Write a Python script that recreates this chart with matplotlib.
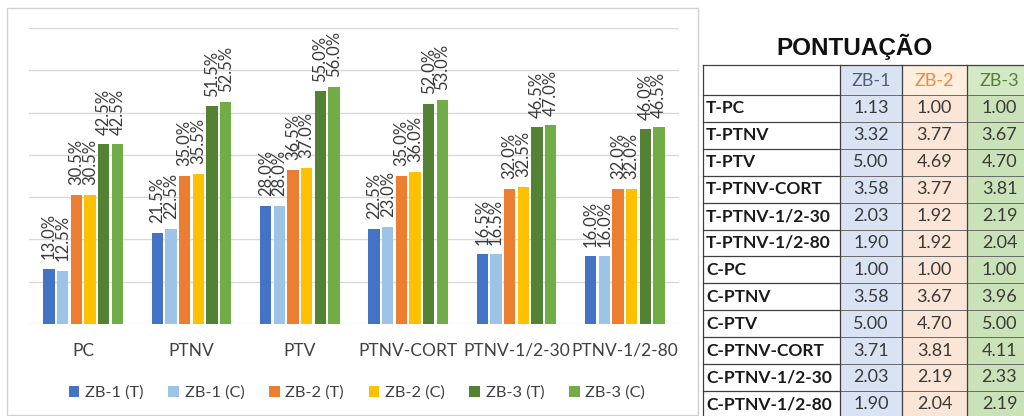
import matplotlib

matplotlib.use("Agg")
import matplotlib.pyplot as plt  # noqa: E402
import numpy as np  # noqa: E402
from matplotlib.patches import Rectangle  # noqa: E402

# --- bar chart data (% per method and bioclimatic zone) ---
categories = ["PC", "PTNV", "PTV", "PTNV-CORT", "PTNV-1/2-30", "PTNV-1/2-80"]
series_names = ["ZB-1 (T)", "ZB-1 (C)", "ZB-2 (T)", "ZB-2 (C)", "ZB-3 (T)", "ZB-3 (C)"]
zb1_t = [13.0, 21.5, 28.0, 22.5, 16.5, 16.0]
zb1_c = [12.5, 22.5, 28.0, 23.0, 16.5, 16.0]
zb2_t = [30.5, 35.0, 36.5, 35.0, 32.0, 32.0]
zb2_c = [30.5, 35.5, 37.0, 36.0, 32.5, 32.0]
zb3_t = [42.5, 51.5, 55.0, 52.0, 46.5, 46.0]
zb3_c = [42.5, 52.5, 56.0, 53.0, 47.0, 46.5]
series_colors = ["#4472C4", "#9DC3E6", "#ED7D31", "#FFC000", "#548235", "#70AD47"]

# --- score table ---
table_title = "PONTUAÇÃO"
table_cols = ["ZB-1", "ZB-2", "ZB-3"]
table_rows = ["T-PC", "T-PTNV", "T-PTV", "T-PTNV-CORT", "T-PTNV-1/2-30", "T-PTNV-1/2-80",
              "C-PC", "C-PTNV", "C-PTV", "C-PTNV-CORT", "C-PTNV-1/2-30", "C-PTNV-1/2-80"]
score_zb1 = [1.13, 3.32, 5.00, 3.58, 2.03, 1.90, 1.00, 3.58, 5.00, 3.71, 2.03, 1.90]
score_zb2 = [1.00, 3.77, 4.69, 3.77, 1.92, 1.92, 1.00, 3.67, 4.70, 3.81, 2.19, 2.04]
score_zb3 = [1.00, 3.67, 4.70, 3.81, 2.19, 2.04, 1.00, 3.96, 5.00, 4.11, 2.33, 2.19]
col_fills = ["#DAE3F3", "#FBE5D6", "#C9E2B8"]
head_fills = ["#DAE3F3", "#FDEEDD", "#D3E8C4"]
head_colors = ["#50607E", "#F0893F", "#548235"]

plt.rcParams["font.family"] = ["Lato", "DejaVu Sans"]

W, H = 1024, 416
fig = plt.figure(figsize=(W / 100, H / 100), dpi=100)
fig.patch.set_facecolor("white")

# chart area, placed in pixel terms
px0, px1, py_top, py_base = 29, 679, 28, 324
ax = fig.add_axes([px0 / W, 1 - py_base / H, (px1 - px0) / W, (py_base - py_top) / H])

series = [zb1_t, zb1_c, zb2_t, zb2_c, zb3_t, zb3_c]
x = np.arange(len(categories))
slot = 0.126
bar_w = 0.104
bars = []
for k, (vals, name, col) in enumerate(zip(series, series_names, series_colors)):
    offs = (k - (len(series) - 1) / 2) * slot
    b = ax.bar(x + offs, vals, bar_w, color=col, label=name, zorder=3)
    ax.bar_label(b, labels=[f"{v:.1f}%" for v in vals], rotation=90,
                 padding=7, fontsize=12, color="#3A3A3A")
    bars.append(b)

ax.set_xlim(-0.5, len(categories) - 0.5)
ax.set_ylim(0, 70)
ax.set_yticks(np.arange(0, 71, 10))
ax.set_yticklabels([])
ax.yaxis.grid(True, color="#D9D9D9", linewidth=1.0)
ax.set_axisbelow(True)
for s in ax.spines.values():
    s.set_visible(False)
ax.set_xticks(x)
ax.set_xticklabels(categories, fontsize=12.5, color="#404040")
ax.tick_params(axis="both", length=0)
ax.tick_params(axis="x", pad=13.5)

ax.legend(handles=bars, ncol=6, loc="center",
          bbox_to_anchor=(357 / W, 1 - 393 / H), bbox_transform=fig.transFigure,
          frameon=False, fontsize=11.8, handlelength=0.65, handleheight=0.65,
          handletextpad=0.35, columnspacing=1.5, labelcolor="#404040")

# overlay in pixel coordinates for the chart frame and the table
ov = fig.add_axes([0, 0, 1, 1])
ov.set_xlim(0, W)
ov.set_ylim(H, 0)
ov.axis("off")
ov.add_patch(Rectangle((7, 8), 691, 407, fill=False, edgecolor="#D0D0D0", linewidth=1.0))

tx0 = 703
col_edges = [840, 902, 967, 1032]
head_top, head_bot = 65, 95
row_h = 26.9

ov.text(854, 47, table_title, ha="center", va="center", fontsize=17.5,
        fontweight="bold", family="Liberation Sans", color="#111111")

n_rows = len(table_rows)
tab_bot = head_bot + n_rows * row_h
scores = [score_zb1, score_zb2, score_zb3]
for j in range(3):
    xl, xr = col_edges[j], col_edges[j + 1]
    ov.add_patch(Rectangle((xl, head_top), xr - xl, head_bot - head_top,
                           facecolor=head_fills[j], edgecolor="none"))
    ov.add_patch(Rectangle((xl, head_bot), xr - xl, tab_bot - head_bot,
                           facecolor=col_fills[j], edgecolor="none"))
    ov.text((xl + xr) / 2, (head_top + head_bot) / 2 + 1, table_cols[j], ha="center",
            va="center", fontsize=13, color=head_colors[j])
    for i, v in enumerate(scores[j]):
        yc = head_bot + (i + 0.5) * row_h
        ov.text((xl + xr) / 2, yc, f"{v:.2f}", ha="center", va="center",
                fontsize=13, color="#3A3A3A")

for i, name in enumerate(table_rows):
    yc = head_bot + (i + 0.5) * row_h
    ov.text(tx0 + 3, yc, name, ha="left", va="center", fontsize=12.5,
            fontweight="bold", color="#1A1A1A")

# grid lines of the table
ov.plot([tx0, col_edges[-1]], [head_top, head_top], color="#404040", lw=0.9)
for i in range(n_rows + 1):
    yy = head_bot + i * row_h
    ov.plot([tx0, col_edges[0]], [yy, yy], color="#404040", lw=0.9)
    ov.plot([col_edges[0], col_edges[-1]], [yy, yy], color="#6A6A6A", lw=0.7)
for xx in [tx0] + col_edges[:-1]:
    ov.plot([xx, xx], [head_top, tab_bot], color="#404040", lw=0.9)

fig.savefig("out.png", dpi=100, facecolor="white")
